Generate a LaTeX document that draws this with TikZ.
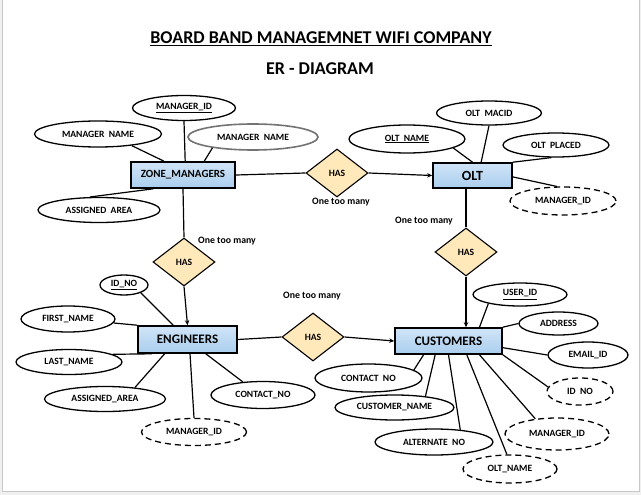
\documentclass[tikz,border=0pt]{standalone}
\usepackage{fontspec}
\setmainfont{Carlito}
\usetikzlibrary{shapes.geometric,arrows.meta,shadows}
\definecolor{entfilltop}{RGB}{208,228,247}
\definecolor{entfillbot}{RGB}{170,206,238}
\definecolor{relfill}{RGB}{255,232,186}
\definecolor{framegray}{RGB}{200,200,200}
\definecolor{pagegray}{RGB}{240,240,240}
\begin{document}
\begin{tikzpicture}[x=1pt,y=-1pt,
  every node/.style={font=\bfseries\fontsize{9.6}{11}\selectfont},
  entity/.style={rectangle, draw=black, line width=1.6pt, top color=entfilltop, bottom color=entfillbot,
     inner sep=0pt, drop shadow={opacity=0.35,shadow xshift=1pt,shadow yshift=-1pt}},
  rel/.style={diamond, draw=black, line width=1.1pt, fill=relfill, inner sep=0pt, minimum width=62pt, minimum height=48pt},
  attr/.style={ellipse, draw=black, line width=1.3pt, fill=white, inner sep=0pt},
  dattr/.style={attr, dash pattern=on 6pt off 4pt},
  conn/.style={line width=1.2pt},
  arr/.style={line width=1.2pt, -{Stealth[length=5pt,width=4.5pt]}},
  note/.style={font=\bfseries\fontsize{9.8}{11}\selectfont},
  ttl/.style={font=\bfseries\fontsize{18}{20}\selectfont}
]
\useasboundingbox (0,0) rectangle (641,495);
\fill[pagegray] (0,0) rectangle (641,495);
\filldraw[fill=white, draw=framegray, line width=1pt] (2.5,-5) rectangle (639,491);

% titles
\node[ttl] (title) at (321,39) {\underline{BOARD BAND MANAGEMNET WIFI COMPANY}};
\node[ttl] (subtitle) at (320,69) {ER - DIAGRAM};

% entities
\node[entity, minimum width=104pt, minimum height=26pt, font=\bfseries\fontsize{11}{12}\selectfont] (zm) at (183,175) {ZONE\_MANAGERS};
\node[entity, minimum width=79pt, minimum height=25pt, font=\bfseries\fontsize{14}{15}\selectfont] (olt) at (472.5,175.5) {OLT};
\node[entity, minimum width=99pt, minimum height=27pt, font=\bfseries\fontsize{13}{14}\selectfont] (eng) at (187.5,339.5) {ENGINEERS};
\node[entity, minimum width=107pt, minimum height=26pt, font=\bfseries\fontsize{13}{14}\selectfont] (cust) at (448.5,341) {CUSTOMERS};

% relationships
\node[rel] (has1) at (337,173) {HAS};
\node[rel] (has3) at (184,262) {HAS};
\node[rel] (has2) at (466,252) {HAS};
\node[rel] (has4) at (313,337) {HAS};

% cardinality notes
\node[note] (n1) at (341,202) {One too many};
\node[note] (n3) at (227,241) {One too many};
\node[note] (n2) at (424,221) {One too many};
\node[note] (n4) at (312,296) {One too many};

% ZONE_MANAGERS attributes
\node[attr, minimum width=103pt, minimum height=25pt] (zmid) at (184,108) {\underline{MANAGER\_ID}};
\node[attr, minimum width=127pt, minimum height=26pt] (zmnl) at (98,134) {MANAGER~~NAME};
\node[attr, minimum width=130pt, minimum height=26pt, draw=black!55, line width=1.6pt] (zmnr) at (253,137) {MANAGER~~NAME};
\node[attr, minimum width=122pt, minimum height=25pt] (zmaa) at (99,210) {ASSIGNED~~AREA};

% OLT attributes
\node[attr, minimum width=105pt, minimum height=24pt] (oltmac) at (489,113) {OLT~~MACID};
\node[attr, minimum width=116pt, minimum height=28pt] (oltname) at (407,139) {\underline{OLT~~NAME}};
\node[attr, minimum width=106pt, minimum height=24pt] (oltplaced) at (556,145) {OLT~~PLACED};
\node[dattr, minimum width=106pt, minimum height=28pt] (oltmgr) at (563,201) {MANAGER\_ID};

% ENGINEERS attributes
\node[attr, minimum width=48pt, minimum height=20pt] (engid) at (124,285) {\underline{ID\_NO}};
\node[attr, minimum width=94pt, minimum height=26pt] (engfn) at (68,319) {FIRST\_NAME};
\node[attr, minimum width=106pt, minimum height=25pt] (engln) at (69,362) {LAST\_NAME};
\node[attr, minimum width=121pt, minimum height=25pt] (engaa) at (105,399) {ASSIGNED\_AREA};
\node[attr, minimum width=104pt, minimum height=27pt] (engcn) at (263,395) {CONTACT\_NO};
\node[dattr, minimum width=105pt, minimum height=27pt] (engmgr) at (194,432) {MANAGER\_ID};

% CUSTOMERS attributes
\node[attr, minimum width=94pt, minimum height=23pt] (cuid) at (520,294.5) {\underline{USER\_ID}};
\node[attr, minimum width=79pt, minimum height=23pt] (cadd) at (558.5,323.5) {ADDRESS};
\node[attr, minimum width=80pt, minimum height=26pt] (cemail) at (588,355) {EMAIL\_ID};
\node[dattr, minimum width=66pt, minimum height=27pt] (cidno) at (580,391.5) {ID~~NO};
\node[dattr, minimum width=104pt, minimum height=32pt] (cmgr) at (557,434) {MANAGER\_ID};
\node[dattr, minimum width=94pt, minimum height=28pt] (colt) at (510,469) {OLT\_NAME};
\node[attr, minimum width=107pt, minimum height=28pt] (ccn) at (368.5,378) {CONTACT~~NO};
\node[attr, minimum width=119pt, minimum height=25pt] (cname) at (394.5,407.5) {CUSTOMER\_NAME};
\node[attr, minimum width=118pt, minimum height=26pt] (calt) at (434,442) {ALTERNATE~~NO};

% connectors: relationships
\draw[conn] (zm.east) -- (has1.west);
\draw[arr] (has1.east) -- (olt.west);
\draw[conn] (zm.south) -- (has3.north);
\draw[arr] (has3.south) -- (eng.north);
\draw[conn] (olt.south -| has2) -- (has2.north);
\draw[arr] (has2.south) -- (has2 |- cust.north);
\draw[conn] (eng.east) -- (has4.west);
\draw[arr] (has4.east) -- (cust.west);

% connectors: ZONE_MANAGERS attributes
\draw[conn] (zmnl.341) -- (zm.144);
\draw[conn] (zmid.south) -- (zm.81);
\draw[conn] (zmnr.195) -- (zm.33);
\draw[conn] (zmaa.125) -- (zm.205);

% connectors: OLT attributes
\draw[conn] (oltname.349) -- (olt.north);
\draw[conn] (oltmac.south) -- (olt.57);
\draw[conn] (oltplaced.250) -- (olt.north east);
\draw[conn] (oltmgr.113) -- (olt.358);

% connectors: ENGINEERS attributes
\draw[conn] (engid.335) -- (eng.135);
\draw[conn] (engfn.355) -- (eng.north west);
\draw[conn] (engln.10) -- (eng.202);
\draw[conn] (engaa.21) -- (eng.212);
\draw[conn] (engmgr.north) -- (eng.280);
\draw[conn] (engcn.147) -- (eng.322);

% connectors: CUSTOMERS attributes
\draw[conn] (cuid.196) -- (cust.24);
\draw[conn] (cadd.west) -- (cust.north east);
\draw[conn] (cemail.west) -- (cust.353);
\draw[conn] (cidno.172) -- (cust.south east);
\draw[conn] (cmgr.145) -- (cust.336);
\draw[conn] (colt.102) -- (cust.323);
\draw[conn] (calt.25) -- (cust.south);
\draw[conn] (cname.20) -- (cust.226);
\draw[conn] (ccn.10) -- (cust.209);
\end{tikzpicture}
\end{document}
